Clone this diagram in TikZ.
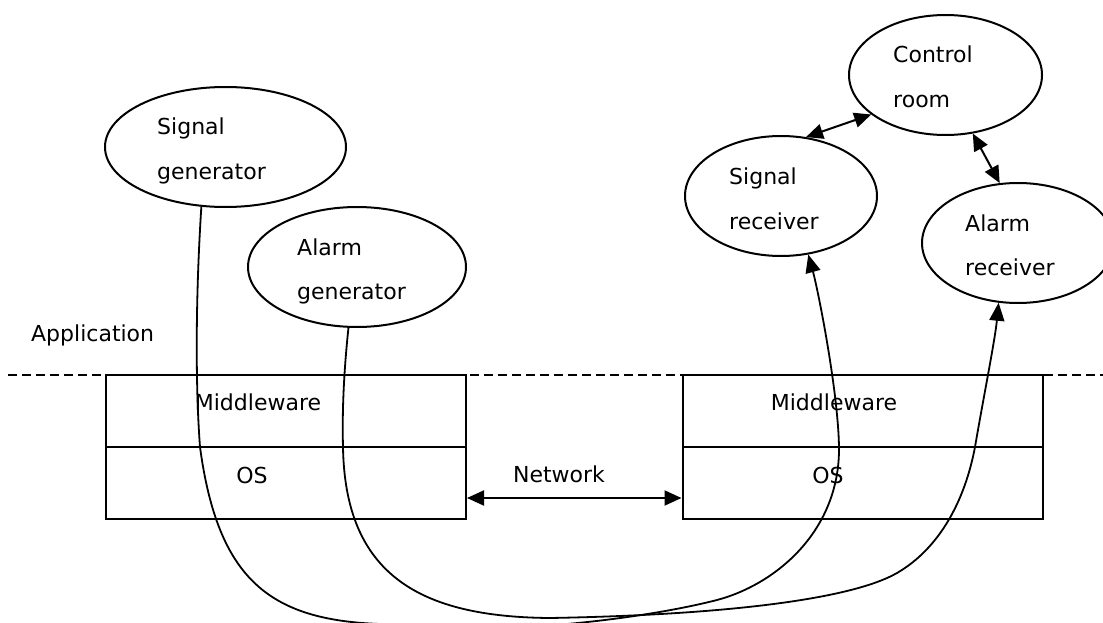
\documentclass[tikz,border=0pt]{standalone}
\usepackage{fontspec}
\setmainfont{DejaVu Sans}
\usetikzlibrary{shapes.geometric,arrows.meta}
\tikzset{
  ell/.style={ellipse, draw, line width=2pt, inner sep=0pt},
  lbl/.style={anchor=base west, inner sep=0pt, font=\fontsize{22}{26}\selectfont},
  ctr/.style={anchor=base, inner sep=0pt, font=\fontsize{22}{26}\selectfont},
  layer/.style={rectangle, draw, line width=2pt, inner sep=0pt, minimum width=360pt, minimum height=72pt},
  tip/.style={-{Triangle[length=18pt,width=15pt]}},
  dtip/.style={{Triangle[length=17pt,width=15pt]}-{Triangle[length=17pt,width=15pt]}},
  conn/.style={line width=1.8pt},
  sep/.style={line width=1.5pt, dash pattern=on 9pt off 5pt}
}
\begin{document}
\begin{tikzpicture}[x=1pt,y=-1pt]
\useasboundingbox (0,0) rectangle (1103,623);
% separator
\coordinate (dl) at (8,375);
\coordinate (dr) at (1103,375);
\draw[sep] (dl) -- (dr);
\node[lbl] (app) at (31,341) {Application};
% boxes
\node[layer] (lmw) at (286,411) {};
\node[layer] (los) at (286,483) {};
\node[layer] (rmw) at (862.5,411) {};
\node[layer] (ros) at (862.5,483) {};
\node[ctr] (lmwt) at (258,410) {Middleware};
\node[ctr] (lost) at (252,483) {OS};
\node[ctr] (rmwt) at (834,410) {Middleware};
\node[ctr] (rost) at (828,483) {OS};
% network
\draw[dtip, line width=2pt] ([yshift=-15pt]los.east) -- ([yshift=-15pt]ros.west);
\node[ctr] (net) at (559,482) {Network};
% ellipses
\node[ell, minimum width=241pt, minimum height=120pt] (sg) at (225.5,147) {};
\node[lbl] (sg1) at (157,135) {Signal};
\node[lbl] (sg2) at (157,179) {generator};
\node[ell, minimum width=218pt, minimum height=120pt] (ag) at (357,267) {};
\node[lbl] (ag1) at (297,255) {Alarm};
\node[lbl] (ag2) at (297,299) {generator};
\node[ell, minimum width=193pt, minimum height=120pt] (cr) at (945.5,75) {};
\node[lbl] (cr1) at (893,63) {Control};
\node[lbl] (cr2) at (893,108) {room};
\node[ell, minimum width=192pt, minimum height=120pt] (sr) at (781,196) {};
\node[lbl] (sr1) at (729,184) {Signal};
\node[lbl] (sr2) at (729,229) {receiver};
\node[ell, minimum width=192pt, minimum height=120pt] (ar) at (1018,243) {};
\node[lbl] (ar1) at (965,231) {Alarm};
\node[lbl] (ar2) at (965,275) {receiver};
% control links
\draw[dtip, line width=2pt] (sr.67) -- (cr.208);
\draw[dtip, line width=2pt] (cr.-65) -- (ar.107);
% signal path
\draw[conn, tip] (sg.-112)
  .. controls (196,290) and (195,380) .. (200,447)
  .. controls (218,580) and (270,620) .. (380,624)
  .. controls (500,638) and (647,618) .. (717,600)
  .. controls (777,584) and (840,530) .. (839,447)
  .. controls (838,390) and (818,290) .. (sr.-65);
% alarm path
\draw[conn, tip] (ag.-98)
  .. controls (344,370) and (342,410) .. (343,447)
  .. controls (345,575) and (420,617) .. (550,618)
  .. controls (720,615) and (850,600) .. (897,573)
  .. controls (940,548) and (965,500) .. (975,447)
  .. controls (983,400) and (995,340) .. (ar.-108);
\end{tikzpicture}
\end{document}
